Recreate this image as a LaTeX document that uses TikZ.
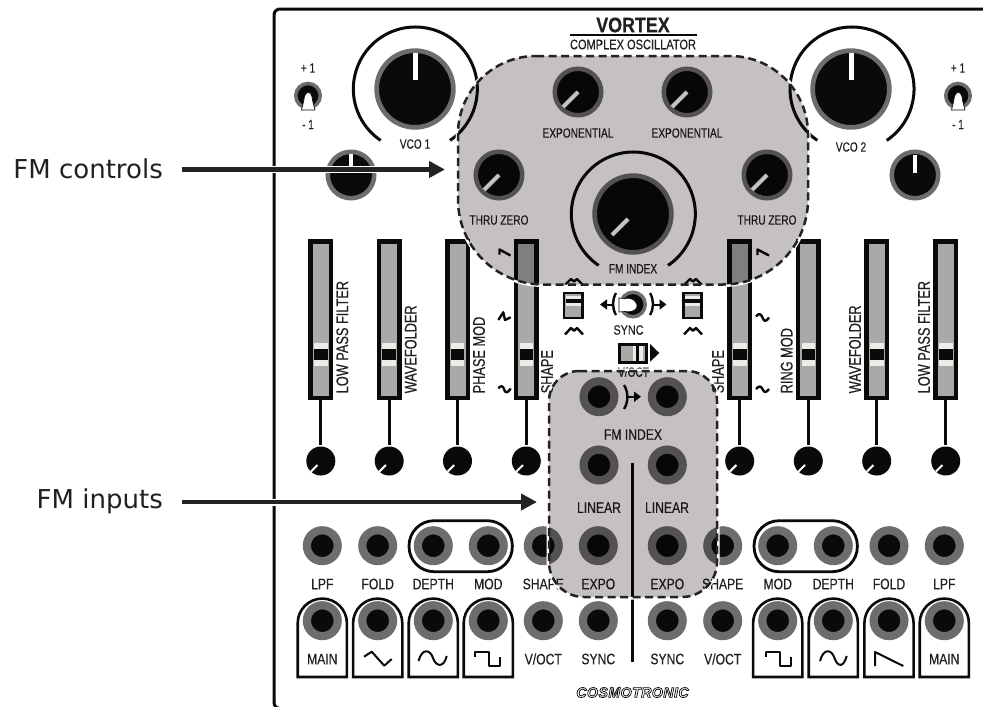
\documentclass[tikz,border=0pt]{standalone}
\usepackage{fontspec}
\usetikzlibrary{arrows.meta}
\setmainfont{Liberation Sans}
\newfontfamily\din[FakeStretch=0.80,FakeBold=0.35]{Liberation Sans}
\newfontfamily\dinl[FakeStretch=0.76,FakeBold=0.35]{Liberation Sans}
\newfontfamily\dinb[FakeStretch=0.85,FakeBold=0.5]{Liberation Sans Bold}
\newfontfamily\callout{DejaVu Sans}
\newfontfamily\logo[LetterSpace=3]{Liberation Sans Bold Italic}
\definecolor{ink}{HTML}{0A0A0A}
\definecolor{ring}{HTML}{6E6D6C}
\definecolor{slot}{HTML}{A9A9A7}
\definecolor{strip}{HTML}{EFECE8}
\definecolor{zone}{HTML}{C4C1C0}
\definecolor{txt}{HTML}{231F20}
\def\regA{(536,56) -- (730,56) arc[start angle=-90,end angle=0,radius=78] -- (808,199.5) arc[start angle=0,end angle=90,radius=85] -- (543,284.5) arc[start angle=90,end angle=180,radius=85] -- (458,134) arc[start angle=180,end angle=270,radius=78] -- cycle}
\def\regB{(579,371) -- (687,371) arc[start angle=-90,end angle=0,radius=30] -- (717,562) arc[start angle=0,end angle=90,radius=35] -- (584,597) arc[start angle=90,end angle=180,radius=35] -- (549,401) arc[start angle=180,end angle=270,radius=30] -- cycle}
\tikzset{
  x=1pt,y=-1pt,
  bigknob/.style={circle,fill=ink,draw=ring,line width=4.7pt,inner sep=0pt,minimum size=76.7pt},
  midknob/.style={circle,fill=ink,draw=ring,line width=4.5pt,inner sep=0pt,minimum size=46.5pt},
  tinyknob/.style={circle,fill=ink,inner sep=0pt,minimum size=29pt},
  jack/.style={circle,fill=ink,draw=ring,line width=8.2pt,inner sep=0pt,minimum size=30.8pt},
  toggle/.style={circle,fill=ink,draw=ring,line width=3.5pt,inner sep=0pt,minimum size=24.5pt},
  slider/.style={rectangle,fill=slot,draw=ink,line width=4.5pt,inner sep=0pt,minimum width=20.5pt,minimum height=156.5pt},
  grip/.style={rectangle,fill=ink,inner sep=0pt,minimum width=13.6pt,minimum height=11.4pt},
  gripline/.style={rectangle,fill=strip,inner sep=0pt,minimum width=13.6pt,minimum height=5.6pt},
  pill/.style={rectangle,rounded corners=25pt,draw=ink,line width=2.8pt,inner sep=0pt,minimum width=103.3pt,minimum height=51pt},
  pointer/.style={draw=white,line width=4pt},
  tick/.style={draw=white,line width=2pt},
  dial/.style={draw=ink,line width=3pt},
  stem/.style={draw=ink,line width=3pt,shorten >=1.5pt},
  tab/.style={draw=ink,line width=2.6pt},
  wave/.style={draw=ink,line width=2pt,line join=round},
  icon/.style={draw=ink,line width=2.4pt,line join=round},
  lab/.style={text=txt,inner sep=0pt,font=\din\fontsize{15.2}{15.2}\selectfont},
  labsm/.style={text=txt,inner sep=0pt,font=\dinl\fontsize{13.3}{13.3}\selectfont},
  lablong/.style={text=txt,inner sep=0pt,rotate=90,anchor=west,font=\dinl\fontsize{16.8}{16.8}\selectfont},
  halo/.style={draw=white,line width=7pt},
  callarrow/.style={draw=ink!90!white,line width=4.3pt,-{Triangle[length=16pt,width=16pt]}},
  dashline/.style={draw=ink!90!white,line width=2.5pt,dash pattern=on 8pt off 4.5pt},
  calltext/.style={inner sep=0pt,anchor=base east,text=txt,font=\callout\fontsize{26}{26}\selectfont},
}
\begin{document}
\begin{tikzpicture}
\useasboundingbox (0,0) rectangle (983,707);
\clip (0,0) rectangle (983,707);
\fill[white] (0,0) rectangle (983,707);
% panel
\draw[draw=ink,line width=3pt,rounded corners=6pt] (990,9) -- (274,9) -- (274,708.5) -- (300,708.5);
% title
\node[text=txt,inner sep=0pt,font=\dinb\fontsize{21}{21}\selectfont] (title) at (633,25) {VORTEX};
\coordinate (ruleL) at (570,35); \coordinate (ruleR) at (697,35);
\draw[draw=ink,line width=2pt] (ruleL) -- (ruleR);
\node[lab,font=\din\fontsize{13.8}{13.8}\selectfont] (subtitle) at (633,44.5) {COMPLEX OSCILLATOR};
% big knobs
\draw[dial] (450,140.4) arc[start angle=56,end angle=-236,radius=62];
\node[bigknob] (vcoA) at (415,89) {};
\draw[pointer,line width=5pt] (415,53) -- (415,80);
\node[labsm] (vcoAl) at (415,144) {VCO 1};
\draw[dial] (886.7,140.4) arc[start angle=56,end angle=-236,radius=62];
\node[bigknob] (vcoB) at (851,89) {};
\draw[pointer,line width=5pt] (851,53) -- (851,80);
\node[labsm] (vcoBl) at (851,147) {VCO 2};
\draw[dial] (668,265.4) arc[start angle=56,end angle=-236,radius=62];
\node[bigknob] (fmk) at (633,214) {};
\draw[pointer] (612,235) -- (628,219);
\node[labsm] (fml) at (633,268.7) {FM INDEX};
% toggles
\node[toggle] (tgA) at (308,95.7) {};
\draw[draw=ink,line width=.7pt,fill=white] (301.5,110) -- (315,110) -- (312.7,101) .. controls (312,89.5) and (304.5,89.5) .. (303.7,101) -- cycle;
\node[labsm] (pA) at (308,68) {+ 1};
\node[labsm] (mA) at (308,124.5) {- 1};
\node[toggle] (tgB) at (958,95.7) {};
\draw[draw=ink,line width=.7pt,fill=white] (951.5,110) -- (965,110) -- (962.7,101) .. controls (962,89.5) and (954.5,89.5) .. (953.7,101) -- cycle;
\node[labsm] (pB) at (958,68) {+ 1};
\node[labsm] (mB) at (958,124.5) {- 1};
% mid knobs
\node[midknob] (fineA) at (351,175) {};
\draw[pointer] (351,154) -- (351,173);
\node[midknob] (fineB) at (915,175) {};
\draw[pointer] (915,154.5) -- (915,173);
\node[midknob] (expA) at (578,92) {};
\draw[pointer] (563,107) -- (578,92);
\node[midknob] (expB) at (687,92) {};
\draw[pointer] (672,107) -- (687,92);
\node[midknob] (thrA) at (499,175) {};
\draw[pointer] (484,190) -- (499,175);
\node[midknob] (thrB) at (767,175) {};
\draw[pointer] (752,190) -- (767,175);
\node[labsm] (expAl) at (578,133) {EXPONENTIAL};
\node[labsm] (expBl) at (687,133) {EXPONENTIAL};
\node[labsm] (thrAl) at (499,220) {THRU ZERO};
\node[labsm] (thrBl) at (767,220) {THRU ZERO};
% sliders
\foreach \n/\x in {a/320.8,b/389.2,c/457.5,d/526.3,e/739.7,f/808.3,g/876.7,h/945.7}{
  \node[slider] (s\n) at (\x,319.5) {};
  \node[gripline] (gt\n) at (\x,346.2) {};
  \node[gripline] (gb\n) at (\x,363) {};
  \node[grip] (g\n) at (\x,354.7) {};
  \node[tinyknob] (k\n) at (\x,461) {};
  \draw[stem] (s\n.south) -- (k\n.north);
  \draw[tick] ([xshift=-10pt,yshift=-10.7pt]k\n.center) -- ([xshift=-3.3pt,yshift=-4pt]k\n.center);
}
\node[lablong] (la) at (342.3,393.5) {LOW PASS FILTER};
\node[lablong] (lb) at (410.7,393.5) {WAVEFOLDER};
\node[lablong] (lc) at (479,393.5) {PHASE MOD};
\node[lablong] (ld) at (547,393.5) {SHAPE};
\node[lablong] (le) at (718,393.5) {SHAPE};
\node[lablong] (lf) at (786.7,393.5) {RING MOD};
\node[lablong] (lg) at (855,393.5) {WAVEFOLDER};
\node[lablong] (lh) at (924,393.5) {LOW PASS FILTER};
% shape icons
\draw[icon] (499.5,254.5) -- (499.5,249.5) -- (510.5,255.5);
\draw[icon] (498.3,320) -- (503.3,312.3) -- (505,320) -- (510.7,317.3);
\draw[icon] (498.3,388.3) .. controls (501,385) and (503,386) .. (504,389) .. controls (505,393) and (507,394) .. (510.7,388.5);
\draw[icon] (757.5,255) -- (757.5,249.5) -- (769,255.5);
\draw[icon] (756,316.5) .. controls (759,312.5) and (761,314) .. (762.5,317.5) .. controls (764,322) and (766,322) .. (769,317.5);
\draw[icon] (756,389) .. controls (759,385.5) and (761,386) .. (762.5,389) .. controls (764,393) and (766,393) .. (769,389);
% centre switches
\node[rectangle,fill=slot,draw=ink,line width=2.6pt,inner sep=0pt,minimum width=18.4pt,minimum height=25pt] (swA) at (573.3,305.5) {};
\fill[strip] (566,296) rectangle (580.6,299.2);
\fill[ink] (566,299.2) rectangle (580.6,303);
\fill[strip] (566,303) rectangle (580.6,305.6);
\node[rectangle,fill=slot,draw=ink,line width=2.6pt,inner sep=0pt,minimum width=18.4pt,minimum height=25pt] (swB) at (692.5,305.5) {};
\fill[strip] (685.2,296) rectangle (699.8,299.2);
\fill[ink] (685.2,299.2) rectangle (699.8,303);
\fill[strip] (685.2,303) rectangle (699.8,305.6);
\draw[icon] (565,334.5) -- (571,328) -- (574,330.8) -- (577,328) -- (583,334.5);
\draw[icon] (684,334.5) -- (690,328) -- (693,330.8) -- (696,328) -- (702,334.5);
\draw[icon] (565,285) -- (571,279) -- (574,281.5) -- (577,279) -- (583,285);
\draw[icon] (684,285) -- (690,279) -- (693,281.5) -- (696,279) -- (702,285);
% sync toggle
\node[toggle] (tgC) at (633,304.5) {};
\draw[draw=ink,line width=.7pt,fill=white] (619,298) -- (619,312) -- (625,311.5) .. controls (633,313) and (638,309) .. (637,305) .. controls (636,301) and (632,297) .. (625,298.5) -- cycle;
\draw[draw=ink,line width=2.4pt] (616,293) .. controls (612,300) and (612,308) .. (616,315);
\draw[draw=ink,line width=2.4pt] (650,293) .. controls (654,300) and (654,308) .. (650,315);
\coordinate (syncLa) at (613,304.5); \coordinate (syncLb) at (600,304.5);
\coordinate (syncRa) at (653,304.5); \coordinate (syncRb) at (666.5,304.5);
\draw[draw=ink,line width=2pt,-{Triangle[length=7pt,width=10pt]}] (syncLa) -- (syncLb);
\draw[draw=ink,line width=2pt,-{Triangle[length=7pt,width=10pt]}] (syncRa) -- (syncRb);
\node[labsm,font=\din\fontsize{13.5}{13.5}\selectfont] (syncl) at (628.5,330) {SYNC};
% horizontal switch
\node[rectangle,fill=slot,draw=ink,line width=3pt,inner sep=0pt,minimum width=26.5pt,minimum height=18pt] (swH) at (633,353) {};
\fill[strip] (632.7,345.5) rectangle (636.2,360.5);
\fill[ink] (636.2,345.5) rectangle (639,360.5);
\fill[strip] (639,345.5) rectangle (642.7,360.5);
\fill[ink] (650,344) -- (659.3,353) -- (650,361.7) -- cycle;
\node[labsm] (vocttop) at (633.5,372) {V/OCT};
% jacks
\foreach \n/\x/\y in {ja/599/396.7,jb/667.3/396.7,jc/599/465,jd/667.3/465,
  r1/322.3/545.7,r2/377.7/545.7,r3/433.3/545.7,r4/488.3/545.7,r5/543.3/545.7,r6/598.3/545.7,
  r7/667.3/545.7,r8/722.7/545.7,r9/777.7/545.7,r10/833.3/545.7,r11/889/545.7,r12/944.3/545.7,
  t1/322.3/620.7,t2/377.7/620.7,t3/433.3/620.7,t4/488.3/620.7,t5/543.3/620.7,t6/598.3/620.7,
  t7/667.3/620.7,t8/722.7/620.7,t9/777.7/620.7,t10/833.3/620.7,t11/889/620.7,t12/944.3/620.7}{
  \node[jack] (\n) at (\x,\y) {};
}
\draw[draw=ink,line width=2.4pt] (624,385) .. controls (628.5,392) and (628.5,402) .. (624,409);
\coordinate (idxA) at (627,396.7); \coordinate (idxB) at (641,396.7);
\draw[draw=ink,line width=2pt,-{Triangle[length=7pt,width=10pt]}] (idxA) -- (idxB);
\node[lab] (fmi2) at (633,434.5) {FM INDEX};
\node[lab] (linA) at (599,507.7) {LINEAR};
\node[lab] (linB) at (667,507.7) {LINEAR};
\coordinate (midA) at (632.7,463); \coordinate (midB) at (632.7,661.7);
\draw[draw=ink,line width=2.5pt] (midA) -- (midB);
% pills
\node[pill] (pillA) at (460.7,546.2) {};
\node[pill] (pillB) at (805.7,546.2) {};
% tabs
\foreach \x in {322.3,377.7,433.3,488.3,777.7,833.3,889,944.3}{
  \draw[tab] (\x-24.6,677) -- (\x-24.6,623.2) arc[start angle=180,end angle=360,radius=24.6] -- (\x+24.6,677) -- cycle;
}
% lower labels
\foreach \n/\x/\t in {a1/322.3/LPF,a2/377.7/FOLD,a3/433.3/DEPTH,a4/488.3/MOD,a5/543.3/SHAPE,a6/598.3/EXPO,a7/667.3/EXPO,a8/722.7/SHAPE,a9/777.7/MOD,a10/833.3/DEPTH,a11/889/FOLD,a12/944.3/LPF}{
  \node[lab] (\n) at (\x,584) {\t};
}
\foreach \n/\x/\t in {b1/322.3/MAIN,b5/543.3/V\slash OCT,b6/598.3/SYNC,b7/667.3/SYNC,b8/722.7/V\slash OCT,b12/944.3/MAIN}{
  \node[lab] (\n) at (\x,659) {\t};
}
% wave icons
\draw[wave] (364,656.7) -- (371.7,651.7) -- (384.3,665.7) -- (391.7,659);
\draw[wave] (418.5,661) .. controls (422,648) and (430,649) .. (433,658) .. controls (436,667) and (444,668) .. (446.7,656);
\draw[wave] (475,656.7) -- (475,652) -- (489,652) -- (489,665.7) -- (500,665.7) -- (500,657);
\draw[wave] (765.7,656.7) -- (765.7,652) -- (779.7,652) -- (779.7,665.7) -- (790.7,665.7) -- (790.7,657);
\draw[wave] (820,661) .. controls (823.5,648) and (831.5,649) .. (834.5,658) .. controls (837.5,667) and (843.5,668) .. (846.7,656);
\draw[wave] (875,666) -- (875,652) -- (903.3,666);
% logo
\node[inner sep=0pt,font=\logo\fontsize{14.2}{14.2}\selectfont] (cosmo) at (632.5,692.5) {\special{pdf:code 2 Tr 0.7 w 1 1 1 rg 0 0 0 RG}COSMOTRONIC\special{pdf:code 0 Tr}};
% zones
\begin{scope}[even odd rule]
  \clip (0,0) rectangle (983,707) \regA;
  \draw[draw=white,line width=5pt] \regA;
\end{scope}
\begin{scope}[even odd rule]
  \clip (0,0) rectangle (983,707) \regB;
  \draw[draw=white,line width=5pt] \regB;
\end{scope}
\fill[zone,blend mode=multiply] \regA;
\fill[zone,blend mode=multiply] \regB;
\draw[dashline] \regA;
\draw[dashline] \regB;
% callouts
\node[calltext] (fmc) at (163,178.3) {FM controls};
\coordinate (fmcEnd) at (445,169.5);
\node[calltext] (fmin) at (163,508.3) {FM inputs};
\coordinate (fminEnd) at (537,502);
\coordinate (fmcStart) at (182,169.5);
\coordinate (fminStart) at (182,502);
\draw[halo] (fmcStart) -- ([xshift=-14pt]fmcEnd);
\draw[halo] (fminStart) -- ([xshift=-14pt]fminEnd);
\draw[callarrow] (fmcStart) -- (fmcEnd);
\draw[callarrow] (fminStart) -- (fminEnd);
\end{tikzpicture}
\end{document}
